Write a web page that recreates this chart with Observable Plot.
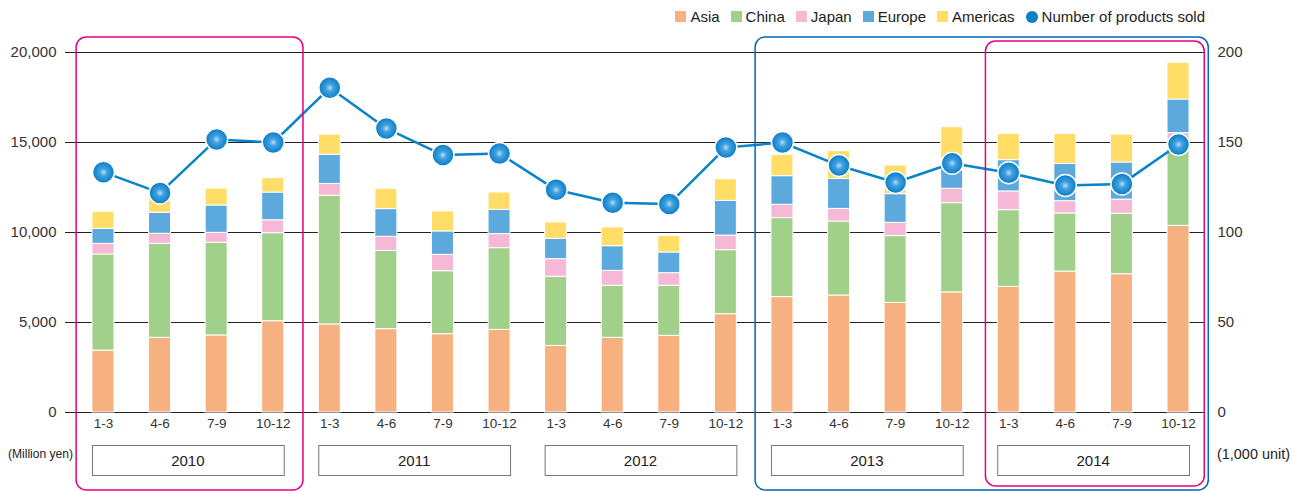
<!DOCTYPE html>
<html>
<head>
<meta charset="utf-8">
<script src="https://cdn.jsdelivr.net/npm/d3@7"></script>
<script src="https://cdn.jsdelivr.net/npm/@observablehq/plot@0.6"></script>
<style>
  body { margin: 0; background: #fff; font-family: "Liberation Sans", Arial, sans-serif; }
  #wrap { position: relative; width: 1293px; height: 491px; overflow: hidden; }
  #legend { position: absolute; top: 8px; right: 88px; display: flex; align-items: center; font-size: 15px; color: #222; white-space: nowrap; }
  #legend .item { display: flex; align-items: center; margin-left: 11px; }
  #legend .sw { width: 11px; height: 11px; margin-right: 4px; }
  #legend .dotsw { width: 12px; height: 12px; border-radius: 50%; margin-right: 4px; background: #0a80c6; }
  #chart { position: absolute; left: 0; top: 0; }
</style>
</head>
<body>
<div id="wrap"><div id="chart"></div><div id="legend"></div></div>
<script>
// ---- data ----
const years = ["2010", "2011", "2012", "2013", "2014"];
const quarters = ["1-3", "4-6", "7-9", "10-12"];
const regions = ["Asia", "China", "Japan", "Europe", "Americas"];
const regionColors = ["#f7b07f", "#a1d08a", "#f5b9d6", "#5caadd", "#ffdd66"];
const lineColor = "#0a84c8";

// Million yen, per quarter (2010 1-3 ... 2014 10-12)
const asia     = [3440, 4150, 4280, 5070, 4890, 4630, 4350, 4590, 3700, 4150, 4260, 5460, 6410, 6500, 6090, 6670, 6980, 7830, 7680, 10370];
const china    = [5340, 5220, 5150, 4890, 7150, 4350, 3500, 4540, 3840, 2890, 2780, 3560, 4390, 4110, 3710, 4960, 4260, 3230, 3360, 4530];
const japan    = [ 590,  560,  550,  720,  660,  780,  910,  780,  980,  830,  700,  810,  740,  700,  740,  800, 1040,  680,  790,  620];
const europe   = [ 830, 1170, 1520, 1540, 1620, 1540, 1300, 1350, 1130, 1370, 1150, 1930, 1590, 1670, 1590, 1570, 1740, 2070, 2060, 1870];
const americas = [ 950,  800,  940,  800, 1120, 1130, 1110,  960,  910, 1040,  910, 1200, 1180, 1540, 1590, 1850, 1460, 1670, 1550, 2040];
// Number of products sold (1,000 units)
const unitsSold = [133.5, 122, 151.7, 150, 180.4, 157.8, 143, 143.9, 123.7, 116.5, 115.9, 147.2, 150, 137.2, 127.8, 138.5, 133.2, 126.1, 127, 148.9];

const leftTicks = [0, 5000, 10000, 15000, 20000];
const rightTicks = [0, 50, 100, 150, 200];
const highlights = [
  {from: "2010", to: "2010", color: "#e5007f", inset: 0},
  {from: "2013", to: "2014", color: "#0068b7", inset: 0},
  {from: "2014", to: "2014", color: "#e5007f", inset: 4}
];

// ---- build tables ----
const keys = [];
years.forEach(y => quarters.forEach(q => keys.push(y + "|" + q)));
const seriesValues = [asia, china, japan, europe, americas];
const stacked = [];
keys.forEach((k, i) => regions.forEach((r, j) => stacked.push({key: k, region: r, value: seriesValues[j][i]})));
const units = keys.map((k, i) => ({key: k, units: unitsSold[i]}));
const ratio = 20000 / 200;

const W = 1293, H = 491;
const chart = Plot.plot({
  width: W,
  height: H,
  marginTop: 52,
  marginBottom: 79,
  marginLeft: 65,
  marginRight: 88,
  style: {fontFamily: "'Liberation Sans', Arial, sans-serif", fontSize: "14px", color: "#333", background: "#fff"},
  x: {domain: keys, range: [57.4, 1223.6], padding: 0.611, round: false, axis: null},
  y: {domain: [0, 20000], axis: null},
  color: {domain: regions, range: regionColors},
  marks: [
    Plot.ruleY(leftTicks, {stroke: "#222", strokeWidth: 1}),
    Plot.barY(stacked, {x: "key", y: "value", fill: "region", order: regions, stroke: "#fff", strokeWidth: 1}),
    Plot.line(units, {x: "key", y: d => d.units * ratio, stroke: lineColor, strokeWidth: 2.5}),
    Plot.dot(units, {x: "key", y: d => d.units * ratio, r: 11, fill: "url(#ballGrad)", stroke: "#fff", strokeWidth: 1.5}),
    Plot.axisY(leftTicks, {anchor: "left", tickSize: 0, tickPadding: 9, tickFormat: d3.format(","), label: null, fontSize: 15}),
    Plot.axisY(rightTicks.map(t => t * ratio), {anchor: "right", tickSize: 0, tickPadding: 12, tickFormat: d => d3.format(",")(d / ratio), label: null, fontSize: 15}),
    Plot.axisX(keys, {anchor: "bottom", tickSize: 0, tickPadding: 6, tickFormat: d => d.split("|")[1], label: null, fontSize: 13.5})
  ]
});
document.getElementById("chart").appendChild(chart);

// ---- decorations using the plot's x scale ----
const xs = chart.scale("x");
const xStart = xs.apply ? (v => xs.apply(v)) : (() => {
  const s = d3.scaleBand(xs.domain, xs.range).paddingInner(xs.paddingInner).paddingOuter(xs.paddingOuter).align(xs.align ?? 0.5);
  return v => s(v);
})();
const bw = xs.bandwidth;
const step = xs.step;
const svg = d3.select(chart);

const defs = svg.insert("defs", ":first-child");
const g = defs.append("radialGradient").attr("id", "ballGrad").attr("cx", "50%").attr("cy", "50%").attr("r", "50%");
g.append("stop").attr("offset", "0%").attr("stop-color", "#b5dcf6");
g.append("stop").attr("offset", "35%").attr("stop-color", "#3fa0e0");
g.append("stop").attr("offset", "100%").attr("stop-color", "#0a7cc4");

// year boxes
const yearG = svg.append("g").attr("text-anchor", "middle");
years.forEach(y => {
  const x0 = xStart(y + "|" + quarters[0]);
  const x1 = xStart(y + "|" + quarters[quarters.length - 1]) + bw;
  yearG.append("rect").attr("x", x0 + 0.5).attr("y", 445.5).attr("width", x1 - x0).attr("height", 30)
    .attr("fill", "#fff").attr("stroke", "#777").attr("stroke-width", 1);
  yearG.append("text").attr("x", (x0 + x1) / 2).attr("y", 461).attr("dy", "0.35em")
    .attr("font-size", 15).attr("fill", "#222").text(y);
});
svg.append("text").attr("x", 8).attr("y", 454).attr("dy", "0.35em").attr("text-anchor", "start")
  .attr("font-size", 12).attr("textLength", 65).attr("lengthAdjust", "spacingAndGlyphs").attr("fill", "#222").text("(Million yen)");
svg.append("text").attr("x", 1217).attr("y", 454).attr("dy", "0.35em").attr("text-anchor", "start")
  .attr("font-size", 14).attr("textLength", 73).attr("lengthAdjust", "spacingAndGlyphs").attr("fill", "#222").text("(1,000 unit)");

// highlight rounded frames
highlights.forEach(h => {
  const x0 = xStart(h.from + "|" + quarters[0]) - 0.28 * step + h.inset;
  const x1 = xStart(h.to + "|" + quarters[quarters.length - 1]) + bw + 0.34 * step - h.inset;
  svg.append("rect").attr("x", x0).attr("y", 37 + h.inset).attr("width", x1 - x0).attr("height", 453 - 2 * h.inset)
    .attr("rx", 10).attr("fill", "none").attr("stroke", h.color).attr("stroke-width", 1.5);
});

// legend
const legend = document.getElementById("legend");
regions.forEach((r, i) => {
  const it = document.createElement("div"); it.className = "item";
  it.innerHTML = `<span class="sw" style="background:${regionColors[i]}"></span><span>${r}</span>`;
  legend.appendChild(it);
});
const it = document.createElement("div"); it.className = "item";
it.innerHTML = `<span class="dotsw"></span><span>Number of products sold</span>`;
legend.appendChild(it);
</script>
</body>
</html>
